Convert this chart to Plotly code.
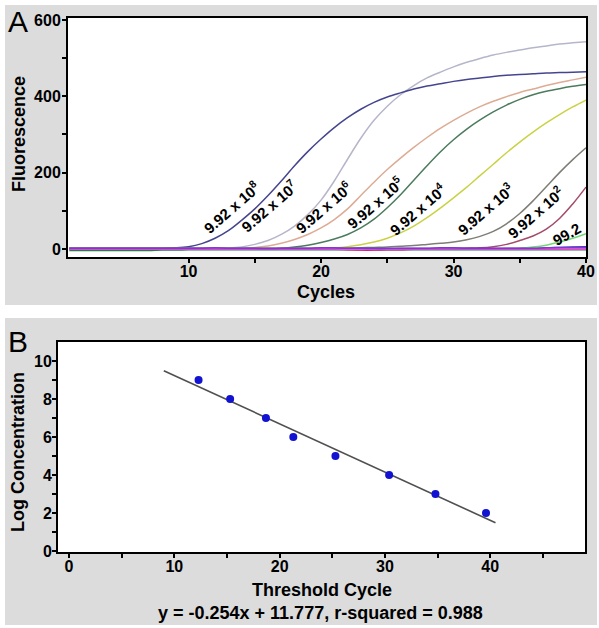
import plotly.graph_objects as go

# ---- panel A: amplification curves (fluorescence per cycle) ----
cycles = list(range(1, 41))

f_1e8 = [2, 2, 2, 2, 2, 2, 2, 2, 3, 6, 14, 28, 48, 75, 105, 140, 178, 218, 255, 288,
         318, 344, 366, 384, 398, 409, 419, 427, 433, 439, 444, 448, 452, 455, 457, 459, 461, 462, 463, 464]
f_1e7 = [1, 1, 1, 1, 1, 1, 1, 1, 1, 1, 1, 1, 2, 5, 12, 22, 38, 60, 90, 128,
         178, 235, 290, 337, 374, 404, 428, 448, 463, 477, 489, 499, 508, 515, 521, 527, 532, 537, 540, 543]
f_1e6 = [1, 1, 1, 1, 1, 1, 1, 1, 1, 1, 1, 1, 1, 1, 4, 8, 15, 25, 38, 55,
         77, 105, 140, 175, 208, 238, 266, 292, 316, 337, 356, 373, 387, 399, 410, 419, 428, 436, 443, 450]
f_1e5 = [1, 1, 1, 1, 1, 1, 1, 1, 1, 1, 1, 1, 1, 1, 1, 1, 2, 5, 10, 17,
         26, 38, 55, 78, 108, 142, 180, 218, 254, 286, 314, 338, 359, 377, 392, 404, 413, 420, 426, 431]
f_1e4 = [1, 1, 1, 1, 1, 1, 1, 1, 1, 1, 1, 1, 1, 1, 1, 1, 1, 1, 1, 2,
         3, 6, 11, 18, 28, 42, 60, 82, 107, 134, 162, 192, 222, 252, 280, 306, 330, 352, 372, 390]
f_1e3 = [1, 1, 1, 1, 1, 1, 1, 1, 1, 1, 1, 1, 1, 1, 1, 1, 1, 1, 1, 1,
         1, 2, 3, 4, 5, 7, 9, 12, 15, 18, 24, 33, 46, 66, 93, 126, 163, 200, 234, 265]
f_1e2 = [0, 0, 0, 0, 0, 0, 0, 0, 0, 0, 0, 0, 0, 0, 0, 0, 0, 0, 0, 0,
         0, 0, 0, 0, 0, 0, 0, 0, 0, 1, 2, 3, 6, 12, 22, 34, 52, 80, 118, 162]
f_99 = [0, 0, 0, 0, 0, 0, 0, 0, 0, 0, 0, 0, 0, 0, 0, 0, 0, 0, 0, 0,
        0, 0, 0, 0, 0, 0, 0, 0, 0, 0, 0, 0, 0, 1, 2, 5, 10, 18, 28, 40]
# no-template / baseline wells
f_purple = [2, 2, 2, 2, 2, 2, 2, 2, 2, 2, 2, 3, 2, 2, 2, 1, 2, 2, 2, 3,
            3, 2, 2, 1, 1, 2, 2, 2, 3, 3, 2, 2, 2, 2, 2, 2, 3, 4, 4, 4]
f_magenta = [0, 0, 0, 0, 0, 0, 0, 0, 0, 0, 0, 0, 0, 0, 0, 0, 0, 0, 0, 0,
             0, -1, -1, -1, -1, 0, 0, 0, 0, 0, 0, 0, 0, 0, 0, 0, 0, 0, 0, 0]
f_blue = [1, 1, 1, 1, 1, 1, 1, 1, 1, 1, 1, 1, 1, 1, 1, 1, 1, 1, 1, 1,
          1, 1, 1, 1, 1, 1, 1, 1, 1, 1, 1, 1, 1, 1, 1, 1, 3, 4, 5, 6]
f_red = [-1, -1, -1, -1, -1, -1, -1, -1, -1, -1, -1, -1, -1, -1, -1, -1, -1, -1, -1, -1,
         -1, -2, -3, -3, -2, -2, -1, -1, 0, 1, 1, 0, -1, -1, -1, -1, -1, -1, -1, -1]
f_green0 = [-4, -4, -4, -4, -4, -4, -4, -3, -3, -2, -2, -2, -2, -2, -2, -2, -2, -2, -2, -2,
            -2, -2, -2, -2, -2, -2, -2, -2, -2, -2, -2, -2, -2, -2, -2, -2, -2, -2, -2, -2]

curve_labels = ["9.92 x 10<sup>8</sup>", "9.92 x 10<sup>7</sup>", "9.92 x 10<sup>6</sup>",
                "9.92 x 10<sup>5</sup>", "9.92 x 10<sup>4</sup>", "9.92 x 10<sup>3</sup>",
                "9.92 x 10<sup>2</sup>", "99.2"]
label_x = [13.25, 16.05, 20.2, 24.0, 27.3, 32.4, 36.2, 38.5]
label_y = [110, 115, 110, 123, 105, 105, 97, 39]

# ---- panel B: standard curve ----
ct = [12.3, 15.3, 18.7, 21.3, 25.3, 30.4, 34.8, 39.6]
log_conc = [9, 8, 7, 6, 5, 4, 3, 2]
slope, intercept = -0.254, 11.777
fit_x = [9.0, 40.5]
fit_y = [slope * v + intercept for v in fit_x]

FONT = "Liberation Sans, Arial, sans-serif"
GREY_BG = "#dcdcdc"

fig = go.Figure()

series = [
    (f_1e7, "#b6b6ca"), (f_1e8, "#45458f"), (f_1e6, "#dcac94"), (f_1e5, "#4b7b5d"),
    (f_1e4, "#cad244"), (f_1e3, "#7e7e76"), (f_1e2, "#a24c6a"), (f_99, "#72d872"),
    (f_green0, "#2a7a4a"), (f_red, "#d8205a"), (f_blue, "#3434c4"),
    (f_magenta, "#e455e4"), (f_purple, "#7a3ccc"),
]
for ys, col in series:
    fig.add_trace(go.Scatter(x=cycles, y=ys, mode="lines", line=dict(color=col, width=1.5, shape="spline"),
                             xaxis="x", yaxis="y", showlegend=False, hoverinfo="skip"))

fig.add_trace(go.Scatter(x=fit_x, y=fit_y, mode="lines", line=dict(color="#505050", width=1.6),
                         xaxis="x2", yaxis="y2", showlegend=False))
fig.add_trace(go.Scatter(x=ct, y=log_conc, mode="markers", marker=dict(color="#1212d2", size=8),
                         xaxis="x2", yaxis="y2", showlegend=False))

tickfont = dict(family=FONT, size=16, color="black", weight="bold")
axis_common = dict(showline=True, linecolor="black", linewidth=2, mirror=True, showgrid=False,
                   zeroline=False, ticks="outside", ticklen=4, tickwidth=1.5, tickcolor="black",
                   tickfont=tickfont, tickmode="array", automargin=False)

fig.update_layout(
    width=599, height=628,
    margin=dict(l=0, r=0, t=0, b=0),
    paper_bgcolor="white", plot_bgcolor="white",
    xaxis=dict(domain=[0.1135, 0.9783], anchor="y", range=[0.9, 40], ticklabelstandoff=-5,
               tickvals=[10, 15, 20, 25, 30, 35, 40], ticktext=["10", "", "20", "", "30", "", "40"],
               **axis_common),
    yaxis=dict(domain=[0.5908, 0.9713], anchor="x", range=[-21, 605], ticklabelstandoff=-2,
               tickvals=[0, 100, 200, 300, 400, 500, 600], ticktext=["0", "", "200", "", "400", "", "600"],
               **axis_common),
    xaxis2=dict(domain=[0.0968, 0.9766], anchor="y2", range=[-1.05, 49], ticklabelstandoff=-5,
                tickvals=[0, 5, 10, 15, 20, 25, 30, 35, 40, 45],
                ticktext=["0", "", "10", "", "20", "", "30", "", "40", ""], **axis_common),
    yaxis2=dict(domain=[0.1210, 0.4554], anchor="x2", range=[-0.05, 11], ticklabelstandoff=-3,
                tickvals=list(range(0, 11)),
                ticktext=["0", "", "2", "", "4", "", "6", "", "8", "", "10"], **axis_common),
)

# grey panel backgrounds, with white plot areas laid back over them
fig.add_shape(type="rect", xref="paper", yref="paper", x0=5 / 599, x1=597 / 599,
              y0=1 - 305 / 628, y1=1 - 5 / 628, fillcolor=GREY_BG, line_width=0, layer="below")
fig.add_shape(type="rect", xref="paper", yref="paper", x0=5 / 599, x1=597 / 599,
              y0=1 - 625 / 628, y1=1 - 318 / 628, fillcolor=GREY_BG, line_width=0, layer="below")
fig.add_shape(type="rect", xref="x domain", yref="y domain", x0=0, x1=1, y0=0, y1=1,
              fillcolor="white", line_width=0, layer="below")
fig.add_shape(type="rect", xref="x2 domain", yref="y2 domain", x0=0, x1=1, y0=0, y1=1,
              fillcolor="white", line_width=0, layer="below")

def paper_text(txt, px, py, size, bold=True, angle=0):
    fig.add_annotation(text=txt, xref="paper", yref="paper", x=px / 599, y=1 - py / 628,
                       xanchor="center", yanchor="middle", showarrow=False, textangle=angle,
                       font=dict(family=FONT, size=size, color="black", weight="bold" if bold else "normal"))

paper_text("A", 18, 22, 30, bold=False)
paper_text("B", 18, 341, 30, bold=False)
paper_text("Fluorescence", 19, 134, 18, angle=-90)
paper_text("Cycles", 326, 292, 18)
paper_text("Log Concentration", 18, 452, 18, angle=-90)
paper_text("Threshold Cycle", 322, 590, 18)
paper_text("y = -0.254x + 11.777, r-squared = 0.988", 320, 613, 18)

for txt, lx, ly in zip(curve_labels, label_x, label_y):
    fig.add_annotation(text=txt, x=lx, y=ly, xref="x", yref="y", showarrow=False,
                       textangle=-30 if txt == "99.2" else -41, xanchor="center", yanchor="middle",
                       font=dict(family=FONT, size=15, color="black", weight="bold"))

# drop the browser's default body margin so the figure sits at the page origin
fig.write_html("out.html", config={"displayModeBar": False},
               post_script="document.body.style.margin='0';")
